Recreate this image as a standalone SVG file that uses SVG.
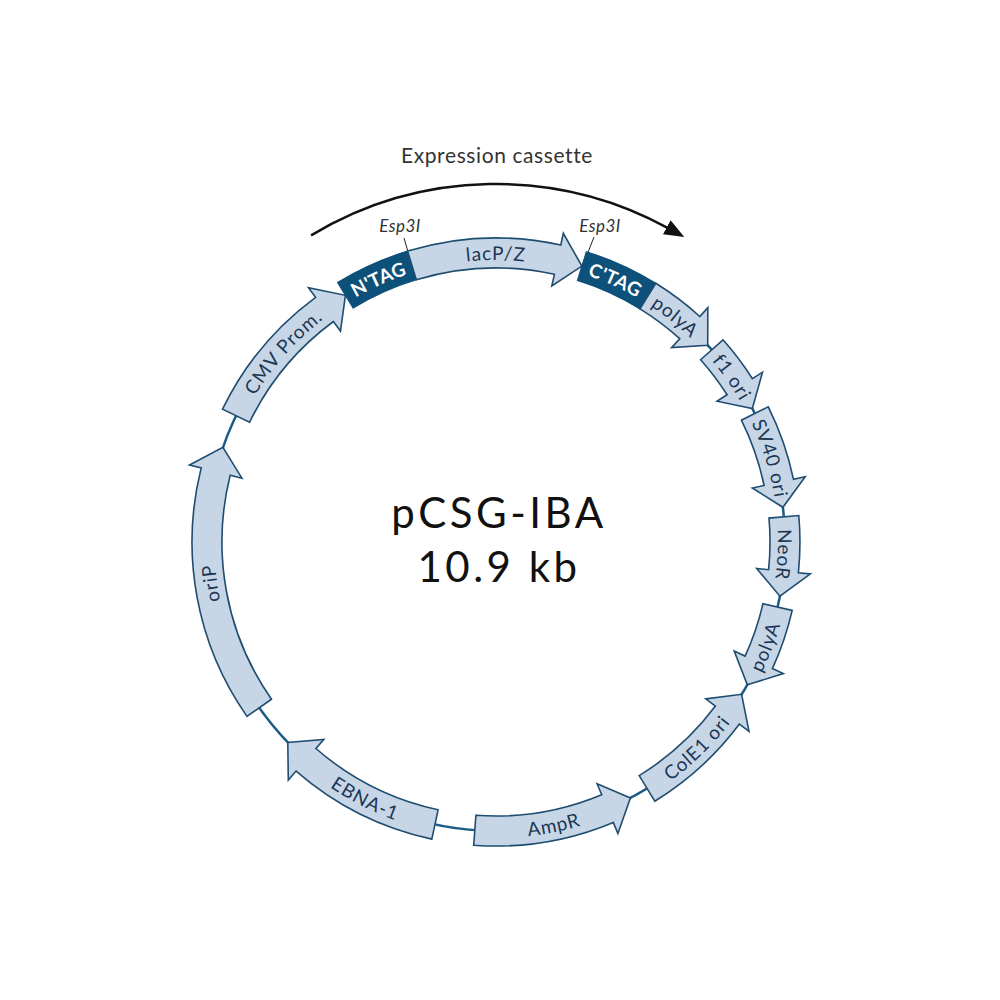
<svg xmlns="http://www.w3.org/2000/svg" xmlns:xlink="http://www.w3.org/1999/xlink" width="1000" height="1000" viewBox="0 0 1000 1000">
<style>
.feat{fill:#c7d6e6;stroke:#1f4d70;stroke-width:1.6;stroke-linejoin:miter}
.tag{fill:#0d5079;stroke:#0d5079;stroke-width:1.2}
.lbl{font-family:Lato,"Liberation Sans",sans-serif;font-size:19px;fill:#1c3654;letter-spacing:0.9px}
.tlbl{font-family:Lato,"Liberation Sans",sans-serif;font-size:19px;font-weight:bold;fill:#ffffff;letter-spacing:0.3px}
.esp{font-family:Lato,"Liberation Sans",sans-serif;font-size:17px;font-style:italic;fill:#333333;letter-spacing:0.5px}
.title{font-family:Lato,"Liberation Sans",sans-serif;font-size:42px;fill:#111111;text-anchor:middle;letter-spacing:3.5px}
</style>
<defs>
<path id="cw" d="M496,824 A282,282 0 0 1 496,260 A282,282 0 0 1 496,824"/>
<path id="ccw" d="M496,246 A296,296 0 0 0 496,838 A296,296 0 0 0 496,246"/>
<marker id="ah" markerUnits="userSpaceOnUse" markerWidth="20" markerHeight="16" viewBox="0 0 20 16" refX="2" refY="8" orient="auto">
<path d="M0,0 L20,8 L0,16 Z" fill="#111111"/>
</marker>
</defs>
<rect width="1000" height="1000" fill="#ffffff"/>
<g id="connectors">
<circle cx="496" cy="542" r="289" fill="none" stroke="#1b5b85" stroke-width="2.5"/>
<path d="M311.1,235.4 A358,358 0 0 1 668.5,228.3" fill="none" stroke="#111111" stroke-width="2.5" marker-end="url(#ah)"/>
<line x1="404" y1="238" x2="416" y2="279" stroke="#222222" stroke-width="1"/>
<line x1="594" y1="237" x2="583" y2="265" stroke="#222222" stroke-width="1"/>
</g>
<g id="cmv">
<path class="feat" d="M222.5,409.2 A304,304 0 0 1 315.6,297.3 L308.5,287.7 L345.4,295.3 L340.5,331.1 L333.4,321.5 A274,274 0 0 0 249.5,422.3 Z"/>
<text class="lbl"><textPath xlink:href="#cw" startOffset="36.6%" text-anchor="middle">CMV Prom.</textPath></text>
</g>
<g id="ntag">
<path class="tag" d="M337.6,282.5 A304,304 0 0 1 407.6,251.1 L416.3,279.8 A274,274 0 0 0 353.2,308.1 Z"/>
<text class="tlbl"><textPath xlink:href="#cw" startOffset="43.3%" text-anchor="middle">N'TAG</textPath></text>
</g>
<g id="lacpz">
<path class="feat" d="M407.6,251.1 A304,304 0 0 1 560.8,245.0 L563.3,233.3 L581.9,266.1 L551.8,286.0 L554.4,274.3 A274,274 0 0 0 416.3,279.8 Z"/>
<text class="lbl"><textPath xlink:href="#cw" startOffset="50%" text-anchor="middle">lacP/Z</textPath></text>
</g>
<g id="ctag">
<path class="tag" d="M586.4,251.7 A304,304 0 0 1 655.8,283.3 L640.0,308.9 A274,274 0 0 0 577.5,280.4 Z"/>
<text class="tlbl"><textPath xlink:href="#cw" startOffset="56.8%" text-anchor="middle">C'TAG</textPath></text>
</g>
<g id="polya1">
<path class="feat" d="M655.8,283.3 A304,304 0 0 1 699.8,316.5 L707.8,307.6 L707.7,345.3 L671.6,347.6 L679.7,338.7 A274,274 0 0 0 640.0,308.9 Z"/>
<text class="lbl"><textPath xlink:href="#cw" startOffset="60.7%" text-anchor="middle">polyA</textPath></text>
</g>
<g id="f1ori">
<path class="feat" d="M723.0,339.8 A304,304 0 0 1 752.4,378.7 L762.5,372.2 L752.3,408.6 L717.0,401.2 L727.1,394.8 A274,274 0 0 0 700.6,359.7 Z"/>
<text class="lbl"><textPath xlink:href="#cw" startOffset="65.3%" text-anchor="middle">f1 ori</textPath></text>
</g>
<g id="sv40ori">
<path class="feat" d="M768.3,406.8 A304,304 0 0 1 793.5,479.3 L805.2,476.8 L782.9,507.3 L752.4,488.0 L764.1,485.5 A274,274 0 0 0 741.4,420.2 Z"/>
<text class="lbl"><textPath xlink:href="#cw" startOffset="70.3%" text-anchor="middle">SV40 ori</textPath></text>
</g>
<g id="neor">
<path class="feat" d="M798.8,515.5 A304,304 0 0 1 798.4,572.7 L810.4,573.9 L779.9,596.2 L756.7,568.5 L768.6,569.7 A274,274 0 0 0 769.0,518.1 Z"/>
<text class="lbl"><textPath xlink:href="#cw" startOffset="75.7%" text-anchor="middle">NeoR</textPath></text>
</g>
<g id="polya2">
<path class="feat" d="M792.2,610.4 A304,304 0 0 1 772.4,668.6 L783.3,673.6 L747.3,684.8 L734.2,651.1 L745.1,656.1 A274,274 0 0 0 763.0,603.6 Z"/>
<text class="lbl"><textPath xlink:href="#ccw" startOffset="69.1%" text-anchor="middle">polyA</textPath></text>
</g>
<g id="cole1ori">
<path class="feat" d="M654.8,801.2 A304,304 0 0 0 739.4,724.1 L749.0,731.3 L741.6,694.3 L705.8,698.9 L715.4,706.1 A274,274 0 0 1 639.2,775.6 Z"/>
<text class="lbl"><textPath xlink:href="#ccw" startOffset="62.3%" text-anchor="middle">ColE1 ori</textPath></text>
</g>
<g id="ampr">
<path class="feat" d="M473.7,845.2 A304,304 0 0 0 613.3,822.4 L617.9,833.5 L630.4,797.9 L597.1,783.7 L601.7,794.8 A274,274 0 0 1 475.9,815.3 Z"/>
<text class="lbl"><textPath xlink:href="#ccw" startOffset="53.2%" text-anchor="middle">AmpR</textPath></text>
</g>
<g id="ebna1">
<path class="feat" d="M431.8,839.1 A304,304 0 0 1 296.1,771.1 L288.3,780.1 L287.8,742.4 L323.8,739.4 L315.9,748.5 A274,274 0 0 0 438.1,809.8 Z"/>
<text class="lbl"><textPath xlink:href="#ccw" startOffset="42.5%" text-anchor="middle">EBNA-1</textPath></text>
</g>
<g id="orip">
<path class="feat" d="M247.0,716.4 A304,304 0 0 1 201.2,467.9 L189.5,465.0 L222.9,447.4 L241.9,478.2 L230.2,475.3 A274,274 0 0 0 271.5,699.2 Z"/>
<text class="lbl"><textPath xlink:href="#cw" startOffset="22.7%" text-anchor="middle">oriP</textPath></text>
</g>
<g id="esp3i-left">
<text class="esp" x="400" y="232" text-anchor="middle">Esp3I</text>
</g>
<g id="esp3i-right">
<text class="esp" x="600" y="232" text-anchor="middle">Esp3I</text>
</g>
<g id="expression-cassette">
<text x="497" y="163" font-family="Lato,'Liberation Sans',sans-serif" font-size="21" fill="#333333" text-anchor="middle" letter-spacing="0.6">Expression cassette</text>
</g>
<g id="plasmid-name">
<text class="title" x="499" y="528">pCSG-IBA</text>
<text class="title" x="499" y="582">10.9 kb</text>
</g>
</svg>
